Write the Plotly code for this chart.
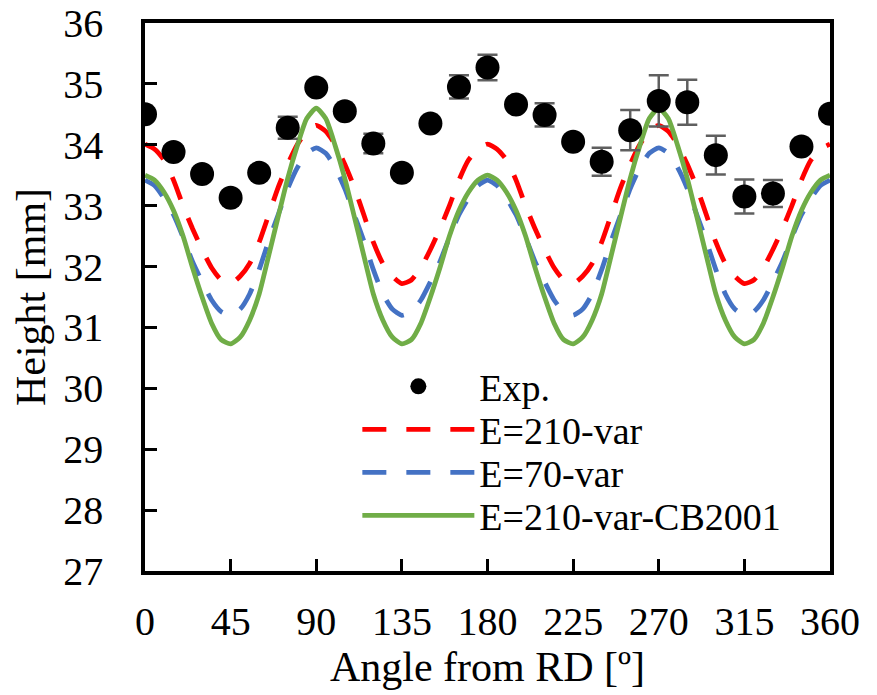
import plotly.graph_objects as go

# Experimental data
exp_angle = [0, 15, 30, 45, 60, 75, 90, 105, 120, 135, 150, 165, 180,
             195, 210, 225, 240, 255, 270, 285, 300, 315, 330, 345, 360]
exp_height = [34.50, 33.88, 33.52, 33.13, 33.54, 34.28, 34.94, 34.55, 34.02, 33.54, 34.35, 34.95, 35.27,
              34.66, 34.49, 34.05, 33.72, 34.24, 34.72, 34.70, 33.83, 33.15, 33.20, 33.97, 34.51]
exp_err = [0.05, 0.05, 0.05, 0.05, 0.05, 0.18, 0.05, 0.05, 0.16, 0.05, 0.05, 0.19, 0.21,
           0.08, 0.19, 0.08, 0.23, 0.33, 0.42, 0.37, 0.32, 0.28, 0.22, 0.05, 0.05]

# Simulation curves (read every 5 degrees)
sim_angle = [0, 5, 10, 15, 20, 25, 30, 35, 40, 45, 50, 55, 60, 65, 70, 75, 80, 85, 90,
             95, 100, 105, 110, 115, 120, 125, 130, 135, 140, 145, 150, 155, 160, 165, 170, 175, 180,
             185, 190, 195, 200, 205, 210, 215, 220, 225, 230, 235, 240, 245, 250, 255, 260, 265, 270,
             275, 280, 285, 290, 295, 300, 305, 310, 315, 320, 325, 330, 335, 340, 345, 350, 355, 360]

e210_var = [34.01, 33.93, 33.75, 33.42, 33.00, 32.62, 32.28, 31.98, 31.78, 31.72, 31.84, 32.05, 32.40, 32.85, 33.30, 33.68, 34.00, 34.22, 34.32,
            34.22, 34.00, 33.68, 33.30, 32.85, 32.40, 32.05, 31.84, 31.72, 31.78, 31.98, 32.28, 32.62, 33.00, 33.42, 33.75, 33.93, 34.01,
            33.93, 33.75, 33.42, 33.00, 32.62, 32.28, 31.98, 31.78, 31.72, 31.84, 32.05, 32.40, 32.85, 33.30, 33.68, 34.00, 34.22, 34.32,
            34.22, 34.00, 33.68, 33.30, 32.85, 32.40, 32.05, 31.84, 31.72, 31.78, 31.98, 32.28, 32.62, 33.00, 33.42, 33.75, 33.93, 34.01]

e70_var = [33.42, 33.33, 33.12, 32.85, 32.48, 32.08, 31.75, 31.45, 31.26, 31.20, 31.30, 31.55, 31.95, 32.42, 32.85, 33.28, 33.62, 33.86, 33.95,
           33.86, 33.62, 33.28, 32.85, 32.42, 31.95, 31.55, 31.30, 31.20, 31.26, 31.45, 31.75, 32.08, 32.48, 32.85, 33.12, 33.33, 33.42,
           33.33, 33.12, 32.85, 32.48, 32.08, 31.75, 31.45, 31.26, 31.20, 31.30, 31.55, 31.95, 32.42, 32.85, 33.28, 33.62, 33.86, 33.95,
           33.86, 33.62, 33.28, 32.85, 32.42, 31.95, 31.55, 31.30, 31.20, 31.26, 31.45, 31.75, 32.08, 32.48, 32.85, 33.12, 33.33, 33.42]

e210_cb2001 = [33.50, 33.42, 33.22, 32.92, 32.50, 31.98, 31.50, 31.07, 30.80, 30.73, 30.84, 31.12, 31.55, 32.18, 32.82, 33.45, 33.98, 34.43, 34.60,
               34.43, 33.98, 33.45, 32.82, 32.18, 31.55, 31.12, 30.84, 30.73, 30.80, 31.07, 31.50, 31.98, 32.50, 32.92, 33.22, 33.42, 33.50,
               33.42, 33.22, 32.92, 32.50, 31.98, 31.50, 31.07, 30.80, 30.73, 30.84, 31.12, 31.55, 32.18, 32.82, 33.45, 33.98, 34.43, 34.60,
               34.43, 33.98, 33.45, 32.82, 32.18, 31.55, 31.12, 30.84, 30.73, 30.80, 31.07, 31.50, 31.98, 32.50, 32.92, 33.22, 33.42, 33.50]

x_ticks = [0, 45, 90, 135, 180, 225, 270, 315, 360]
y_ticks = [27, 28, 29, 30, 31, 32, 33, 34, 35, 36]

FONT = "Liberation Serif, Times New Roman, serif"

fig = go.Figure()

fig.add_trace(go.Scatter(
    x=sim_angle, y=e210_var, mode="lines", name="E=210-var",
    line=dict(color="#FF0000", width=4.8, dash="24px,20px", shape="spline", smoothing=0.6),
    legend="legend2",
))
fig.add_trace(go.Scatter(
    x=sim_angle, y=e70_var, mode="lines", name="E=70-var",
    line=dict(color="#4472C4", width=4.8, dash="24px,20px", shape="spline", smoothing=0.6),
    legend="legend3",
))
fig.add_trace(go.Scatter(
    x=sim_angle, y=e210_cb2001, mode="lines", name="E=210-var-CB2001",
    line=dict(color="#70AD47", width=4.8, shape="spline", smoothing=0.6),
    legend="legend4",
))
fig.add_trace(go.Scatter(
    x=exp_angle, y=exp_height, mode="markers", name="Exp.",
    marker=dict(color="black", size=24),
    error_y=dict(type="data", array=exp_err, visible=True, color="#5f5f5f", thickness=2.5, width=10),
    legend="legend",
))

axis_common = dict(
    showline=True, linecolor="black", linewidth=3.5, mirror=True,
    ticks="inside", ticklen=12, tickwidth=2.5, tickcolor="black",
    showgrid=False, zeroline=False,
    tickfont=dict(family=FONT, size=40, color="black"),
)

fig.update_xaxes(
    range=[0, 360], tickmode="array", tickvals=x_ticks, ticktext=[str(v) for v in x_ticks],
    title=dict(text="Angle from RD [º]", font=dict(family=FONT, size=42, color="black"), standoff=8),
    ticklabelstandoff=12,
    **axis_common,
)
fig.update_yaxes(
    range=[27, 36], tickmode="array", tickvals=y_ticks, ticktext=[str(v) for v in y_ticks],
    title=dict(text="Height [mm]", font=dict(family=FONT, size=42, color="black"), standoff=6),
    ticklabelstandoff=30,
    **axis_common,
)

leg_common = dict(
    xanchor="left", yanchor="middle",
    bgcolor="rgba(0,0,0,0)", borderwidth=0,
    font=dict(family=FONT, size=38, color="black"),
    itemwidth=112,
)

fig.update_layout(
    width=877, height=695,
    margin=dict(l=145, r=47, t=23, b=124, autoexpand=False),
    plot_bgcolor="white", paper_bgcolor="white",
    font=dict(family=FONT, color="black"),
    showlegend=True,
    legend=dict(x=0.31, y=0.3365, **leg_common),
    legend2=dict(x=0.31, y=0.258, **leg_common),
    legend3=dict(x=0.31, y=0.1795, **leg_common),
    legend4=dict(x=0.31, y=0.101, **leg_common),
)

fig.write_html("out.html")
